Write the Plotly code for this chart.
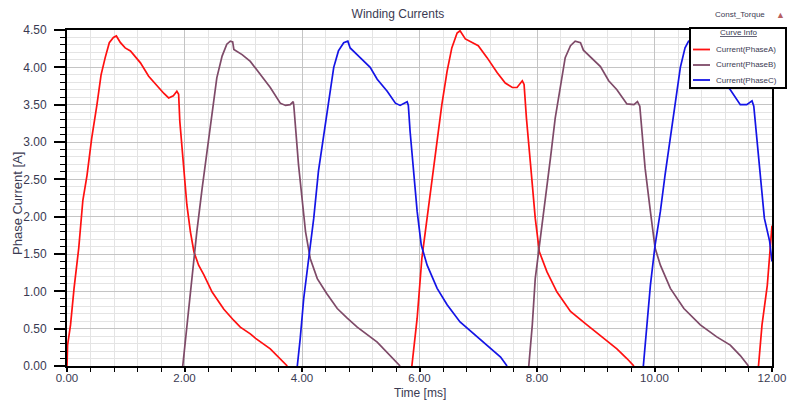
import plotly.graph_objects as go

# Winding current waveforms (time in ms, current in A); None separates conduction pulses
t_phase_a = [0.00, 0.01, 0.06, 0.12, 0.20, 0.27, 0.34, 0.42, 0.51, 0.58, 0.65, 0.72, 0.79, 0.84,
             0.91, 0.99, 1.08, 1.25, 1.39, 1.53, 1.65, 1.73, 1.81, 1.87, 1.90, 1.92, 1.96, 2.00,
             2.04, 2.10, 2.16, 2.24, 2.33, 2.47, 2.67, 2.84, 2.95, 3.12, 3.21, 3.46, 3.63, 3.75,
             None,
             5.87, 5.96, 6.04, 6.13, 6.21, 6.30, 6.38, 6.47, 6.55, 6.64, 6.69, 6.78, 6.89, 7.00,
             7.15, 7.32, 7.46, 7.58, 7.66, 7.75, 7.78, 7.82, 7.89, 7.97, 8.04, 8.17, 8.34, 8.57,
             8.85, 9.08, 9.13, 9.36, 9.53, 9.65,
             None,
             11.77, 11.83, 11.92, 11.97, 12.00]
i_phase_a = [0.00, 0.28, 0.55, 1.04, 1.58, 2.22, 2.55, 3.05, 3.50, 3.90, 4.13, 4.33, 4.40, 4.42,
             4.33, 4.26, 4.22, 4.06, 3.88, 3.75, 3.65, 3.59, 3.62, 3.68, 3.64, 3.28, 2.87, 2.52,
             2.16, 1.80, 1.53, 1.35, 1.22, 0.99, 0.76, 0.61, 0.52, 0.43, 0.37, 0.23, 0.10, 0.00,
             None,
             0.00, 0.64, 1.44, 1.98, 2.47, 2.96, 3.50, 3.95, 4.26, 4.46, 4.49, 4.38, 4.33, 4.29,
             4.13, 3.93, 3.79, 3.73, 3.73, 3.82, 3.77, 3.32, 2.70, 1.98, 1.53, 1.26, 0.99, 0.73,
             0.55, 0.41, 0.37, 0.23, 0.10, 0.00,
             None,
             0.00, 0.55, 1.08, 1.53, 1.88]

t_phase_b = [1.97, 2.04, 2.13, 2.21, 2.30, 2.38, 2.47, 2.55, 2.64, 2.72, 2.78, 2.82, 2.84,
             2.98, 3.12, 3.29, 3.46, 3.63, 3.72, 3.80, 3.85, 3.86, 3.89, 3.94, 4.00, 4.06, 4.14,
             4.26, 4.42, 4.60, 4.77, 4.94, 5.28, 5.50, 5.67,
             None,
             7.86, 7.92, 7.97, 8.06, 8.14, 8.23,
             8.31, 8.40, 8.48, 8.57, 8.65, 8.74, 8.79, 9.08, 9.22, 9.36, 9.53, 9.65, 9.71, 9.75,
             9.79, 9.84, 9.93, 10.01, 10.10, 10.27, 10.50, 10.78, 11.06, 11.29, 11.46, 11.60]
i_phase_b = [0.00, 0.55, 1.26, 1.80, 2.38, 2.87, 3.41, 3.86, 4.15, 4.31, 4.35, 4.34, 4.24,
             4.17, 4.08, 3.90, 3.73, 3.52, 3.49, 3.50, 3.54, 3.49, 3.14, 2.70, 2.25, 1.80, 1.44,
             1.17, 0.97, 0.77, 0.64, 0.52, 0.32, 0.14, 0.00,
             None,
             0.00, 0.55, 1.17, 1.71, 2.25, 2.79,
             3.32, 3.77, 4.13, 4.29, 4.35, 4.33, 4.23, 4.01, 3.82, 3.70, 3.51, 3.50, 3.54, 3.48,
             3.10, 2.65, 2.07, 1.58, 1.35, 1.04, 0.77, 0.55, 0.39, 0.28, 0.14, 0.00]

t_phase_c = [3.92, 3.97, 4.03, 4.11, 4.20, 4.28, 4.37, 4.45, 4.54, 4.62, 4.71, 4.78, 4.82,
             4.99, 5.16, 5.28, 5.45, 5.59, 5.67, 5.79, 5.81, 5.84, 5.90, 5.96, 6.03, 6.13, 6.30,
             6.47, 6.69, 6.92, 7.15, 7.38, 7.49,
             None,
             9.81, 9.87, 9.93, 10.01, 10.10, 10.18, 10.27,
             10.35, 10.44, 10.52, 10.58, 10.64, 10.70, 10.85, 11.00, 11.15, 11.29, 11.46, 11.57,
             11.66, 11.69, 11.72, 11.76, 11.82, 11.87, 11.96, 12.00]
i_phase_c = [0.00, 0.37, 0.91, 1.44, 1.98, 2.61, 3.10, 3.55, 4.00, 4.22, 4.33, 4.35, 4.26,
             4.13, 4.00, 3.84, 3.68, 3.52, 3.49, 3.54, 3.49, 3.14, 2.60, 2.07, 1.62, 1.35, 1.04,
             0.82, 0.59, 0.43, 0.28, 0.12, 0.00,
             None,
             0.00, 0.55, 1.08, 1.62, 2.07, 2.56, 3.05,
             3.55, 4.00, 4.26, 4.35, 4.34, 4.24, 4.12, 3.97, 3.83, 3.70, 3.50, 3.50,
             3.55, 3.48, 3.23, 2.87, 2.43, 1.98, 1.67, 1.40]

series_names = ["Current(PhaseA)", "Current(PhaseB)", "Current(PhaseC)"]
series_colors = ["#ff1010", "#7e4a68", "#1414e6"]

W, H = 788, 401
ML, MR, MT, MB = 67, 16, 30, 35
TXT = "#3a3a52"
FONT = "Liberation Sans, Arial, sans-serif"


def px_x(px):
    return (px - ML) / (W - ML - MR)


def px_y(py):
    return (H - MB - py) / (H - MT - MB)


fig = go.Figure()
for t, i, name, col in zip([t_phase_a, t_phase_b, t_phase_c],
                           [i_phase_a, i_phase_b, i_phase_c],
                           series_names, series_colors):
    fig.add_trace(go.Scatter(x=t, y=i, mode="lines", name=name, connectgaps=False,
                             line=dict(color=col, width=1.7), showlegend=False))

axis_common = dict(
    showline=True, linecolor="black", linewidth=2, mirror=True,
    ticks="outside", tickcolor="black", tickwidth=1.5,
    tickformat=".2f", zeroline=False, layer="above traces", automargin=False,
)

fig.update_xaxes(
    range=[0, 12], dtick=2, tick0=0, ticklen=4, ticklabelstandoff=-4,
    tickfont=dict(family=FONT, size=11.5, color=TXT),
    showgrid=True, gridcolor="#c4c4c4", gridwidth=1.2,
    minor=dict(dtick=0.4, tick0=0, showgrid=True, gridcolor="#e4e4e4", gridwidth=1.2,
               ticks="outside", ticklen=4, tickcolor="black", tickwidth=1.2),
    **axis_common,
)
fig.update_yaxes(
    range=[0, 4.5], dtick=0.5, tick0=0, ticklen=11, ticklabelstandoff=5,
    tickfont=dict(family=FONT, size=12, color=TXT),
    showgrid=True, gridcolor="#c4c4c4", gridwidth=1.2,
    minor=dict(dtick=0.1, tick0=0, showgrid=True, gridcolor="#e4e4e4", gridwidth=1.2,
               ticks="outside", ticklen=5, tickcolor="black", tickwidth=1.2),
    **axis_common,
)

# Axis titles placed as free text below / left of the tick labels
annotations = [
    dict(text="Time [ms]", x=px_x(420), y=px_y(392.5), xref="paper", yref="paper",
         showarrow=False, font=dict(family=FONT, size=12, color=TXT),
         xanchor="center", yanchor="middle"),
    dict(text="Phase Current [A]", x=px_x(18), y=px_y(204), xref="paper", yref="paper",
         showarrow=False, textangle=-90, font=dict(family=FONT, size=13, color=TXT),
         xanchor="center", yanchor="middle"),
]

# Legend panel ("Curve Info") drawn as a boxed key in the top-right corner
shapes = [dict(type="rect", xref="paper", yref="paper",
               x0=px_x(690), x1=px_x(786), y0=px_y(88), y1=px_y(28),
               fillcolor="white", line=dict(color="black", width=2), layer="above")]
annotations += [
    dict(text="<u>Curve Info</u>", x=px_x(738), y=px_y(33), xref="paper", yref="paper",
         showarrow=False, font=dict(family=FONT, size=8, color=TXT),
         xanchor="center", yanchor="middle"),
    dict(text="Const_Torque", x=px_x(740), y=px_y(15), xref="paper", yref="paper",
         showarrow=False, font=dict(family=FONT, size=8, color=TXT),
         xanchor="center", yanchor="middle"),
    dict(text="▲", x=px_x(781), y=px_y(15), xref="paper", yref="paper",
         showarrow=False, font=dict(family=FONT, size=9, color="#b86060"),
         xanchor="center", yanchor="middle"),
]
for k, (name, col) in enumerate(zip(series_names, series_colors)):
    yy = [49.5, 65, 80][k]
    shapes.append(dict(type="line", xref="paper", yref="paper",
                       x0=px_x(693), x1=px_x(710), y0=px_y(yy), y1=px_y(yy),
                       line=dict(color=col, width=1.8), layer="above"))
    annotations.append(dict(text=name, x=px_x(714), y=px_y(yy), xref="paper", yref="paper",
                            showarrow=False, font=dict(family=FONT, size=8, color=TXT),
                            xanchor="left", yanchor="middle"))

fig.update_layout(
    width=W, height=H,
    margin=dict(l=ML, r=MR, t=MT, b=MB, autoexpand=False),
    paper_bgcolor="white", plot_bgcolor="white",
    title=dict(text="Winding Currents", x=0.505, xanchor="center", y=1 - 14 / H, yanchor="middle",
               font=dict(family=FONT, size=12, color=TXT)),
    shapes=shapes, annotations=annotations,
)

fig.write_html("out.html")
